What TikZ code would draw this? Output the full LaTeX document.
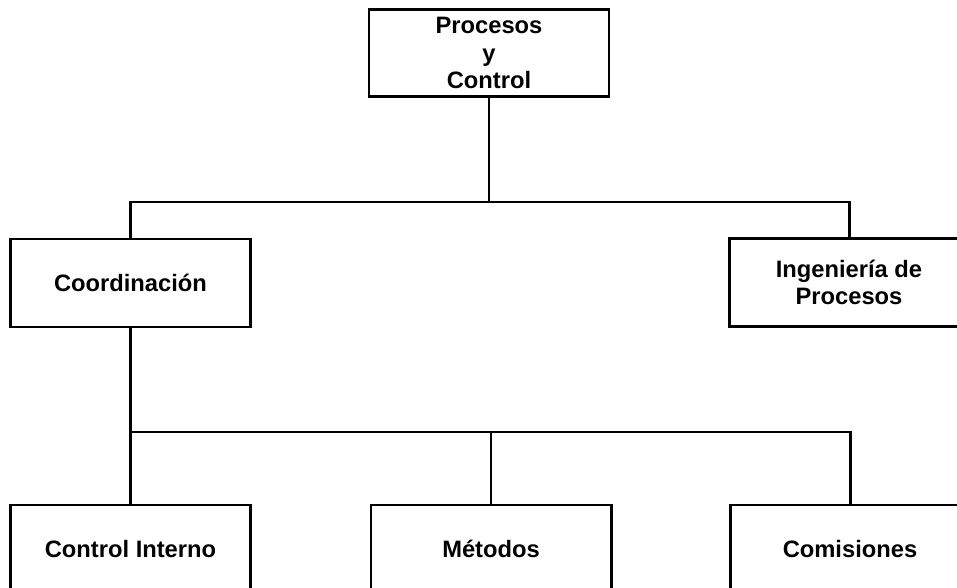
\documentclass[tikz,border=0pt]{standalone}
\usepackage{fontspec}
\setmainfont{Liberation Sans}
\begin{document}
\begin{tikzpicture}[x=0.02cm,y=-0.02cm,
  box/.style={draw=black,line width=1.7pt,fill=white,align=center,
    minimum width=240*0.02cm,minimum height=87*0.02cm,inner sep=0pt,
    font=\fontsize{13.5}{15.5}\selectfont\bfseries},
  conn/.style={draw=black,line width=1.7pt}]
\useasboundingbox (0,0) rectangle (957,588);
\fill[white] (0,0) rectangle (957,588);
\node[box] (pc) at (489,53) {Procesos\\y\\Control};
\node[box,minimum height=88*0.02cm] (co) at (130.5,283) {Coordinación};
\node[box,minimum height=88*0.02cm] (ing) at (849,282.5) {Ingeniería de\\Procesos};
\node[box,minimum height=88*0.02cm] (ci) at (130.5,549) {Control Interno};
\node[box,minimum height=88*0.02cm] (me) at (491,549) {Métodos};
\node[box,minimum height=88*0.02cm] (cm) at (850,549) {Comisiones};
\coordinate (j1) at (489,202);
\coordinate (j2) at (130.5,432);
\draw[conn] (pc.south) -- (j1);
\draw[conn] (co.north) -- (co.north |- j1) -- (ing.north |- j1) -- (ing.north);
\draw[conn] (co.south) -- (ci.north);
\draw[conn] (j2) -- (cm.north |- j2) -- (cm.north);
\draw[conn] (me.north) -- (me.north |- j2);
\end{tikzpicture}
\end{document}
